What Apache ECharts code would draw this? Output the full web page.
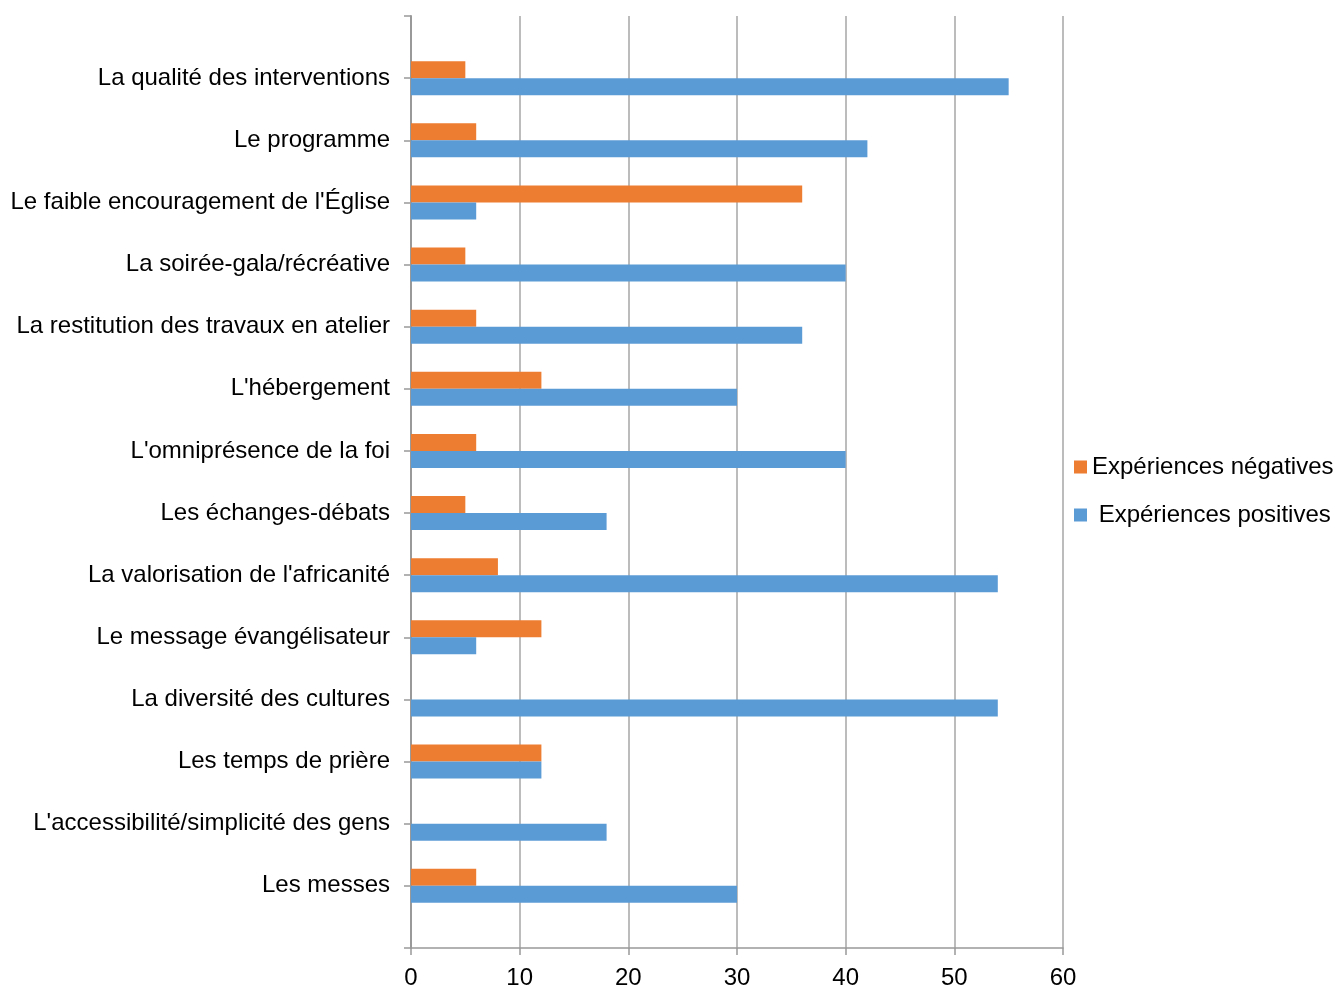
<!DOCTYPE html>
<html>
<head>
<meta charset="UTF-8">
<title>Expériences</title>
<script src="https://cdn.jsdelivr.net/npm/echarts@6/dist/echarts.min.js"></script>
<style>
  html, body { margin: 0; padding: 0; background: #fff; }
</style>
</head>
<body>
	<div id="container" style="width:1336px;height:987px;"></div>
	<script type="text/javascript">

	// categories, top to bottom
	var categories = [
		'La qualité des interventions',
		'Le programme',
		"Le faible encouragement de l'Église",
		'La soirée-gala/récréative',
		'La restitution des travaux en atelier',
		"L'hébergement",
		"L'omniprésence de la foi",
		'Les échanges-débats',
		"La valorisation de l'africanité",
		'Le message évangélisateur',
		'La diversité des cultures',
		'Les temps de prière',
		"L'accessibilité/simplicité des gens",
		'Les messes'
	];
	var negatives = [5, 6, 36, 5, 6, 12, 6, 5, 8, 12, 0, 12, 0, 6];
	var positives = [55, 42, 6, 40, 36, 30, 40, 18, 54, 6, 54, 12, 18, 30];
	var xTicks = [0, 10, 20, 30, 40, 50, 60];

	// the original axis leaves an empty slot above and below the categories
	var axisCats = [''].concat(categories).concat(['']);
	function pad(arr) {
		var out = ['-'];
		for (var i = 0; i < arr.length; i++) {
			out.push(arr[i] === 0 ? '-' : arr[i]);
		}
		out.push('-');
		return out;
	}

	var dom = document.getElementById("container");
	var myChart = echarts.init(dom);
	var font = 'Liberation Sans, Arial, sans-serif';

	var option = {
		animation: false,
		grid: { left: 411, right: 273, top: 16, bottom: 39, containLabel: false, outerBoundsMode: 'none' },
		legend: {
			orient: 'vertical',
			left: 1069,
			top: 450,
			itemWidth: 13,
			itemHeight: 13,
			itemGap: 24,
			icon: 'rect',
			textStyle: { fontFamily: font, fontSize: 24, color: '#000' },
			data: ['Expériences négatives', ' Expériences positives']
		},
		xAxis: {
			type: 'value',
			min: xTicks[0],
			max: xTicks[xTicks.length - 1],
			interval: 10,
			axisLine: { show: true, lineStyle: { color: '#999', width: 1.5 } },
			axisTick: { show: true, length: 7, lineStyle: { color: '#999', width: 1.5 } },
			axisLabel: { fontFamily: font, fontSize: 24, color: '#000', margin: 18 },
			splitLine: { show: true, lineStyle: { color: '#a6a6a6', width: 1.5 } }
		},
		yAxis: {
			type: 'category',
			inverse: true,
			boundaryGap: false,
			data: axisCats,
			axisLine: { show: true, lineStyle: { color: '#999', width: 2 } },
			axisTick: { show: true, length: 7, alignWithLabel: true, lineStyle: { color: '#999', width: 1.5 } },
			axisLabel: { fontFamily: font, fontSize: 24, color: '#000', margin: 21, interval: 0 },
			splitLine: { show: false }
		},
		series: [
			{
				name: 'Expériences négatives',
				type: 'bar',
				data: pad(negatives),
				barWidth: 17,
				barGap: '0%',
				itemStyle: { color: '#ED7D31' }
			},
			{
				name: ' Expériences positives',
				type: 'bar',
				data: pad(positives),
				barWidth: 17,
				barGap: '0%',
				itemStyle: { color: '#5B9BD5' }
			}
		]
	};

	myChart.setOption(option, true);
    </script>
</body>
</html>
